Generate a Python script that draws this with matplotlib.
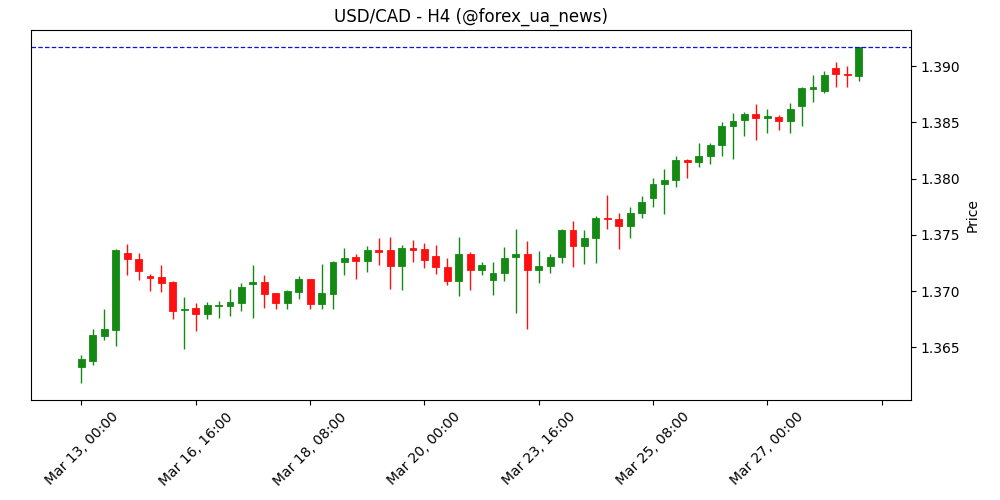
import numpy as np
import matplotlib
matplotlib.use('Agg')
import matplotlib.pyplot as plt

title = 'USD/CAD - H4 (@forex_ua_news)'

opens = [1.36329, 1.36379, 1.36600, 1.36653, 1.37334, 1.37286, 1.37132, 1.37121, 1.37079, 1.36831,
         1.36846, 1.36795, 1.36864, 1.36866, 1.36893, 1.37065, 1.37079, 1.36979, 1.36896, 1.36994,
         1.37103, 1.36888, 1.36976, 1.37257, 1.37304, 1.37265, 1.37369, 1.37369, 1.37221, 1.37387,
         1.37375, 1.37316, 1.37216, 1.37088, 1.37325, 1.37186, 1.37097, 1.37162, 1.37304, 1.37325,
         1.37186, 1.37221, 1.37304, 1.37547, 1.37399, 1.37473, 1.37650, 1.37641, 1.37576, 1.37694,
         1.37824, 1.37948, 1.37984, 1.38167, 1.38143, 1.38197, 1.38295, 1.38463, 1.38517, 1.38576,
         1.38534, 1.38546, 1.38507, 1.38649, 1.38797, 1.38782, 1.38981, 1.38931, 1.38915]
highs = [1.36429, 1.36660, 1.36837, 1.37378, 1.37422, 1.37340, 1.37156, 1.37236, 1.37088, 1.36950,
         1.36896, 1.36902, 1.36911, 1.37014, 1.37074, 1.37236, 1.37139, 1.36979, 1.37008, 1.37132,
         1.37103, 1.37245, 1.37265, 1.37384, 1.37325, 1.37399, 1.37473, 1.37482, 1.37405, 1.37458,
         1.37428, 1.37413, 1.37295, 1.37482, 1.37349, 1.37260, 1.37260, 1.37393, 1.37553, 1.37449,
         1.37354, 1.37325, 1.37556, 1.37620, 1.37547, 1.37664, 1.37857, 1.37694, 1.37748, 1.37842,
         1.38005, 1.38085, 1.38203, 1.38176, 1.38316, 1.38316, 1.38502, 1.38582, 1.38588, 1.38664,
         1.38620, 1.38567, 1.38670, 1.38817, 1.38922, 1.38957, 1.39033, 1.39000, 1.39167]
lows = [1.36187, 1.36343, 1.36565, 1.36512, 1.37147, 1.37097, 1.36999, 1.36990, 1.36754, 1.36488,
        1.36645, 1.36748, 1.36763, 1.36778, 1.36822, 1.36763, 1.36852, 1.36843, 1.36837, 1.36932,
        1.36843, 1.36843, 1.36843, 1.37147, 1.37103, 1.37171, 1.37236, 1.37021, 1.37008, 1.37257,
        1.37207, 1.37153, 1.37053, 1.36955, 1.37006, 1.37147, 1.36964, 1.37088, 1.36808, 1.36660,
        1.37074, 1.37162, 1.37251, 1.37216, 1.37245, 1.37251, 1.37553, 1.37375, 1.37473, 1.37650,
        1.37748, 1.37689, 1.37925, 1.38005, 1.38103, 1.38132, 1.38203, 1.38174, 1.38374, 1.38339,
        1.38409, 1.38427, 1.38409, 1.38463, 1.38676, 1.38759, 1.38817, 1.38812, 1.38871]
closes = [1.36394, 1.36606, 1.36660, 1.37369, 1.37286, 1.37177, 1.37115, 1.37068, 1.36822, 1.36843,
          1.36799, 1.36872, 1.36872, 1.36899, 1.37038, 1.37079, 1.36976, 1.36896, 1.36997, 1.37103,
          1.36888, 1.36979, 1.37257, 1.37295, 1.37265, 1.37369, 1.37351, 1.37221, 1.37387, 1.37363,
          1.37274, 1.37212, 1.37088, 1.37325, 1.37186, 1.37236, 1.37162, 1.37295, 1.37325, 1.37186,
          1.37227, 1.37304, 1.37547, 1.37399, 1.37473, 1.37650, 1.37638, 1.37576, 1.37694, 1.37792,
          1.37955, 1.37990, 1.38167, 1.38143, 1.38203, 1.38301, 1.38469, 1.38514, 1.38576, 1.38534,
          1.38558, 1.38507, 1.38620, 1.38803, 1.38815, 1.38922, 1.38928, 1.38919, 1.39167]

tick_pos = [0, 10, 20, 30, 40, 50, 60, 70]
tick_labels = ['Mar 13, 00:00', 'Mar 16, 16:00', 'Mar 18, 08:00', 'Mar 20, 00:00',
               'Mar 23, 16:00', 'Mar 25, 08:00', 'Mar 27, 00:00', '']

o = np.array(opens)
h = np.array(highs)
l = np.array(lows)
c = np.array(closes)
x = np.arange(len(o))

up_col = '#148a14'
down_col = '#ff1010'
colors = [up_col if cc >= oo else down_col for oo, cc in zip(o, c)]

fig = plt.figure(figsize=(10, 5), dpi=100)
ax = fig.add_axes([0.0305, 0.2, 0.88, 0.74])

# wicks, then bodies
ax.vlines(x, l, h, colors=colors, linewidth=1)
body = np.abs(c - o)
body = np.maximum(body, 0.00002)
ax.bar(x, body, bottom=np.minimum(o, c), width=0.6, color=colors, edgecolor=colors, linewidth=0.6)

# last price line
ax.axhline(closes[-1], color='#1010e0', linestyle='--', linewidth=0.9, dashes=(3.6, 1.8))

ax.set_xlim(-4.46, 72.53)
ax.set_ylim(1.36032, 1.39320)
ax.set_xticks(tick_pos)
ax.set_xticklabels(tick_labels, rotation=45, ha='center')
ax.set_yticks([1.365, 1.370, 1.375, 1.380, 1.385, 1.390])
ax.set_yticklabels(['1.365', '1.370', '1.375', '1.380', '1.385', '1.390'])
ax.yaxis.tick_right()
ax.yaxis.set_label_position('right')
ax.set_ylabel('Price')
ax.set_title(title)

plt.savefig('out.png', dpi=100)
